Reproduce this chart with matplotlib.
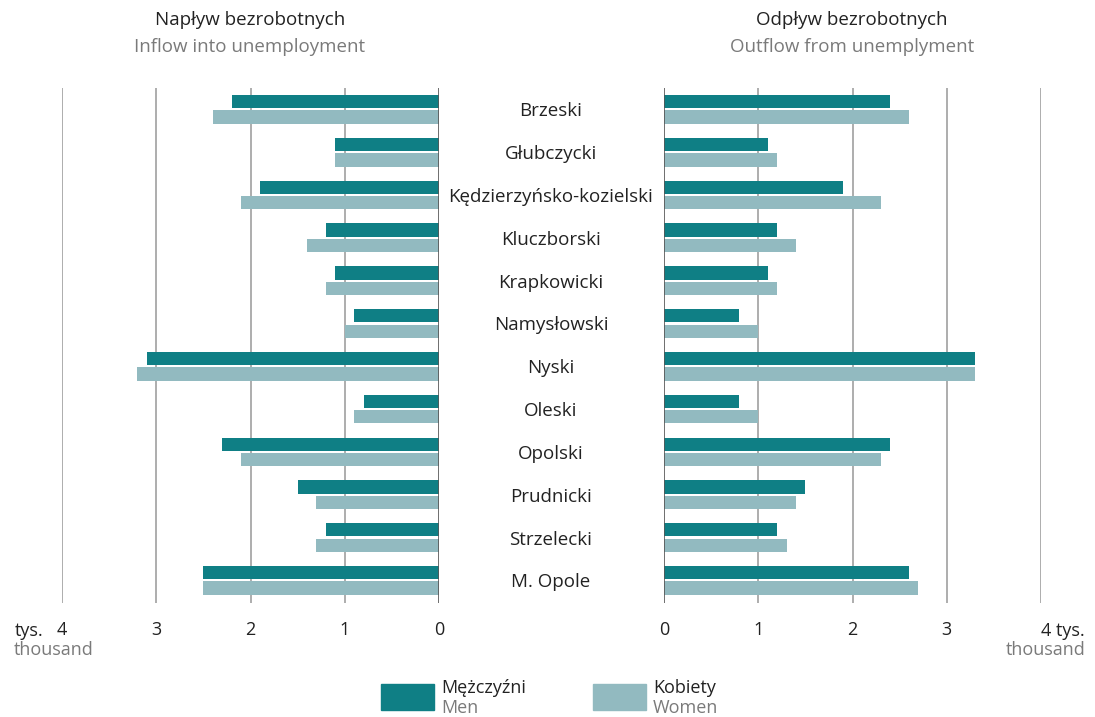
import numpy as np
import matplotlib
matplotlib.use("Agg")
import matplotlib.pyplot as plt
from matplotlib.transforms import blended_transform_factory

plt.rcParams['font.family'] = ['Open Sans', 'DejaVu Sans']

# data (thousand persons)
powiaty = ["Brzeski", "Głubczycki", "Kędzierzyńsko-kozielski", "Kluczborski",
           "Krapkowicki", "Namysłowski", "Nyski", "Oleski", "Opolski",
           "Prudnicki", "Strzelecki", "M. Opole"]
inflow_men = [2.2, 1.1, 1.9, 1.2, 1.1, 0.9, 3.1, 0.8, 2.3, 1.5, 1.2, 2.5]
inflow_women = [2.4, 1.1, 2.1, 1.4, 1.2, 1.0, 3.2, 0.9, 2.1, 1.3, 1.3, 2.5]
outflow_men = [2.4, 1.1, 1.9, 1.2, 1.1, 0.8, 3.3, 0.8, 2.4, 1.5, 1.2, 2.6]
outflow_women = [2.6, 1.2, 2.3, 1.4, 1.2, 1.0, 3.3, 1.0, 2.3, 1.4, 1.3, 2.7]
ticks = [0, 1, 2, 3, 4]

dark = "#0f7f85"
light = "#92bac0"
grey_txt = "#7a7a7a"
fs = 13

W, H = 1095, 717
fig = plt.figure(figsize=(W / 100, H / 100), dpi=100)

def px(x0, y0, x1, y1):
    return [x0 / W, 1 - y1 / H, (x1 - x0) / W, (y1 - y0) / H]

ax_l = fig.add_axes(px(62, 88, 439, 603))
ax_r = fig.add_axes(px(664, 88, 1041, 603))

y = np.arange(len(powiaty))
bh = 0.31
off = 0.18

for ax, men, women in [(ax_l, inflow_men, inflow_women), (ax_r, outflow_men, outflow_women)]:
    ax.barh(y - off, men, height=bh, color=dark, zorder=3)
    ax.barh(y + off, women, height=bh, color=light, zorder=3)
    ax.set_ylim(len(powiaty) - 0.47, -0.5)
    for t in ticks[1:]:
        ax.axvline(t, color="#a0a0a0", lw=1.2, zorder=1)
    ax.axvline(0, color="#555555", lw=1.2, zorder=4)
    for s in ax.spines.values():
        s.set_visible(False)
    ax.set_yticks([])
    ax.set_xticks(ticks)
    ax.tick_params(axis="x", length=0, pad=13, labelsize=fs, labelcolor="#222222")

ax_l.set_xlim(4, 0)
ax_r.set_xlim(0, 4)
ax_r.set_xticklabels([str(t) for t in ticks[:-1]] + [""])

# category labels in the middle
tr = blended_transform_factory(fig.transFigure, ax_l.transData)
for i, name in enumerate(powiaty):
    ax_l.text(551 / W, i, name, transform=tr, ha="center", va="center_baseline",
              fontsize=13.5, color="#222222")

# panel titles
fig.text(250 / W, 1 - 20 / H, "Napływ bezrobotnych", ha="center", va="center",
         fontsize=13.5, color="#222222")
fig.text(250 / W, 1 - 47 / H, "Inflow into unemployment", ha="center", va="center",
         fontsize=13.5, color=grey_txt)
fig.text(852 / W, 1 - 20 / H, "Odpływ bezrobotnych", ha="center", va="center",
         fontsize=13.5, color="#222222")
fig.text(852 / W, 1 - 47 / H, "Outflow from unemplyment", ha="center", va="center",
         fontsize=13.5, color=grey_txt)

# units
fig.text(15 / W, 1 - 629 / H, "tys.", ha="left", va="center_baseline", fontsize=fs, color="#222222")
fig.text(14 / W, 1 - 650 / H, "thousand", ha="left", va="center", fontsize=fs, color=grey_txt)
fig.text(1085 / W, 1 - 629 / H, "4 tys.", ha="right", va="center_baseline", fontsize=fs, color="#222222")
fig.text(1085 / W, 1 - 650 / H, "thousand", ha="right", va="center", fontsize=fs, color=grey_txt)

# legend
for x0, col, pl, en in [(381, dark, "Mężczyźni", "Men"), (593, light, "Kobiety", "Women")]:
    fig.patches.append(plt.Rectangle((x0 / W, 1 - 710 / H), 53 / W, 26 / H,
                                     transform=fig.transFigure, color=col))
    fig.text((x0 + 60) / W, 1 - 688 / H, pl, ha="left", va="center", fontsize=fs, color="#222222")
    fig.text((x0 + 60) / W, 1 - 708 / H, en, ha="left", va="center", fontsize=fs, color=grey_txt)

fig.savefig("out.png", dpi=100)
